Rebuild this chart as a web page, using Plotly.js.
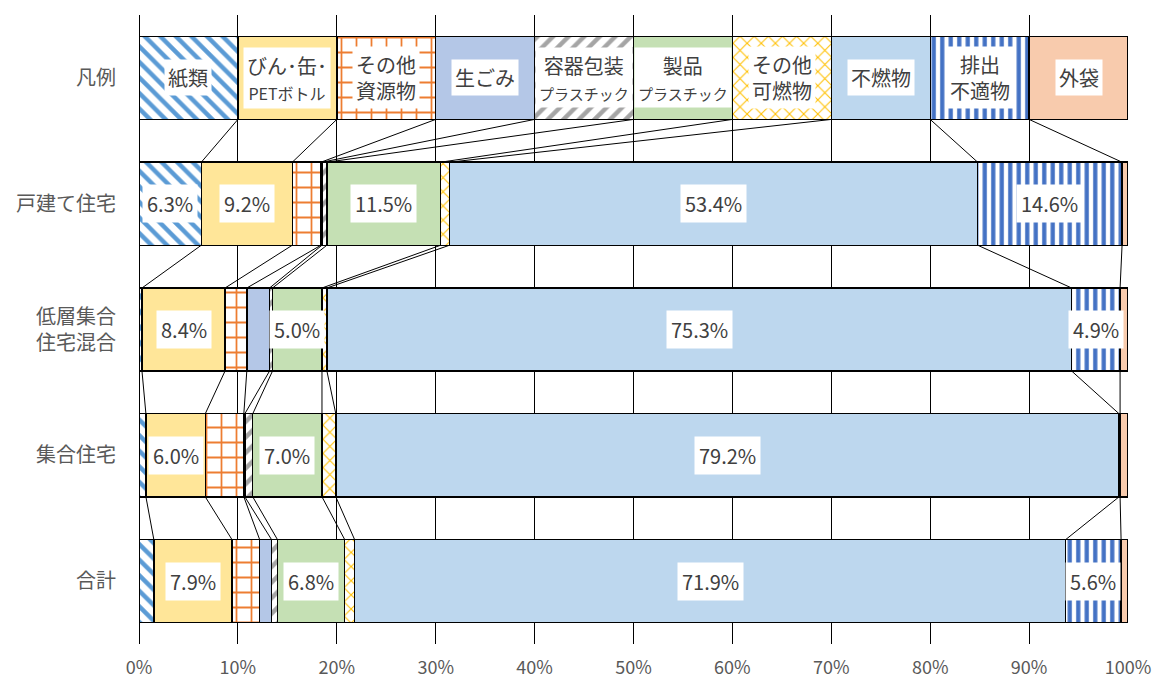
<!DOCTYPE html>
<html>
<head>
<meta charset="utf-8">
<script src="https://cdn.plot.ly/plotly-3.0.1.min.js"></script>
<style>body{margin:0;background:#fff}</style>
</head>
<body>
<div id="chart" style="width:1155px;height:680px"></div>
<script>
// rows (top to bottom)
const rows = ['凡例', '戸建て住宅', '低層集合<br>住宅混合', '集合住宅', '合計'];

// series names, and the text written inside the legend row
const names = ['紙類', 'びん・缶・PETボトル', 'その他資源物', '生ごみ', '容器包装プラスチック',
  '製品プラスチック', 'その他可燃物', '不燃物', '排出不適物', '外袋'];
const legendText = [
  '紙類',
  'びん･缶･<br><span style="font-size:16px">PETボトル</span>',
  'その他<br>資源物',
  '生ごみ',
  '容器包装<br><span style="font-size:15px">プラスチック</span>',
  '製品<br><span style="font-size:15px">プラスチック</span>',
  'その他<br>可燃物',
  '不燃物',
  '排出<br>不適物',
  '外袋',
];

// shares in % (legend row is 10 each)
const paper       = [10, 6.3, 0.3, 0.7, 1.5];
const bottles     = [10, 9.2, 8.4, 6.0, 7.9];
const otherRes    = [10, 2.9, 2.2, 3.9, 2.8];
const food        = [10, 0.1, 2.3, 0.1, 1.2];
const pkgPlastic  = [10, 0.5, 0.3, 0.8, 0.6];
const prodPlastic = [10, 11.5, 5.0, 7.0, 6.8];
const otherBurn   = [10, 0.9, 0.5, 1.4, 1.0];
const nonBurn     = [10, 53.4, 75.3, 79.2, 71.9];
const unfit       = [10, 14.6, 4.9, 0.1, 5.6];
const outerBag    = [10, 0.6, 0.8, 0.8, 0.7];

const values = [paper, bottles, otherRes, food, pkgPlastic, prodPlastic, otherBurn, nonBurn, unfit, outerBag];

const styles = [
  { color: '#5B9BD5', shape: '\\', size: 11, solidity: 0.4 },
  { color: '#FFE699' },
  { color: '#ED7D31', shape: '+', size: 15, solidity: 0.22 },
  { color: '#B4C7E7' },
  { color: '#A5A5A5', shape: '/', size: 11, solidity: 0.4 },
  { color: '#C5E0B4' },
  { color: '#FFC000', shape: 'x', size: 10, solidity: 0.2 },
  { color: '#BDD7EE' },
  { color: '#4472C4', shape: '|', size: 8.5, solidity: 0.5 },
  { color: '#F8CBAD' },
];

const TEXT = '#404040';
const FONT = '"Noto Sans CJK JP", "Noto Sans", sans-serif';
const BAR_W = 0.66;

const traces = values.map((v, s) => {
  const st = styles[s];
  const marker = { color: st.shape ? '#fff' : st.color, line: { color: '#000', width: 1.4 } };
  if (st.shape) {
    marker.pattern = { shape: st.shape, fgcolor: st.color, bgcolor: '#fff', size: st.size, solidity: st.solidity, fillmode: 'replace' };
  }
  return {
    type: 'bar',
    orientation: 'h',
    name: names[s],
    y: rows,
    x: v,
    width: BAR_W,
    marker: marker,
    hoverinfo: 'name+x',
  };
});

// cumulative ends per row
const cum = rows.map((r, i) => {
  let acc = 0;
  return values.map(v => (acc += v[i]));
});

// series lines between neighbouring bars
const shapes = [];
for (let r = 0; r < rows.length - 1; r++) {
  for (let s = 0; s < values.length - 1; s++) {
    shapes.push({
      type: 'line', xref: 'x', yref: 'y',
      x0: cum[r][s], y0: r + BAR_W / 2,
      x1: cum[r + 1][s], y1: r + 1 - BAR_W / 2,
      line: { color: '#000', width: 1 },
    });
  }
}

// labels
const annotations = [];
values.forEach((v, s) => {
  v.forEach((val, r) => {
    const mid = cum[r][s] - val / 2;
    if (r === 0) {
      annotations.push({
        x: mid, y: r, xref: 'x', yref: 'y', text: legendText[s], showarrow: false,
        bgcolor: '#fff', borderpad: 3, font: { size: 20, color: TEXT, family: FONT },
      });
    } else if (val >= 4.5) {
      annotations.push({
        x: mid, y: r, xref: 'x', yref: 'y', text: val.toFixed(1) + '%', showarrow: false,
        bgcolor: '#fff', borderpad: 4, font: { size: 20, color: TEXT, family: FONT },
      });
    }
  });
});

const LAYOUT = {
  width: 1155,
  height: 680,
  margin: { l: 139, r: 27, t: 15, b: 36 },
  paper_bgcolor: '#fff',
  plot_bgcolor: '#fff',
  barmode: 'stack',
  showlegend: false,
  font: { family: FONT, color: '#595959' },
  xaxis: {
    range: [0, 100],
    dtick: 10,
    ticksuffix: '%',
    showgrid: true,
    gridcolor: '#000',
    gridwidth: 1,
    zeroline: true,
    zerolinecolor: '#000',
    zerolinewidth: 1,
    showline: false,
    ticks: '',
    ticklabelstandoff: 11,
    tickfont: { size: 18, color: '#595959', family: FONT },
    fixedrange: true,
  },
  yaxis: {
    type: 'category',
    categoryorder: 'array',
    categoryarray: rows,
    autorange: 'reversed',
    showgrid: false,
    zeroline: false,
    ticks: '',
    ticklabelstandoff: 22,
    tickfont: { size: 20, color: '#595959', family: FONT },
    fixedrange: true,
  },
  shapes: shapes,
  annotations: annotations,
};

Plotly.newPlot('chart', traces, LAYOUT, { displayModeBar: false, staticPlot: true });
</script>
</body>
</html>
